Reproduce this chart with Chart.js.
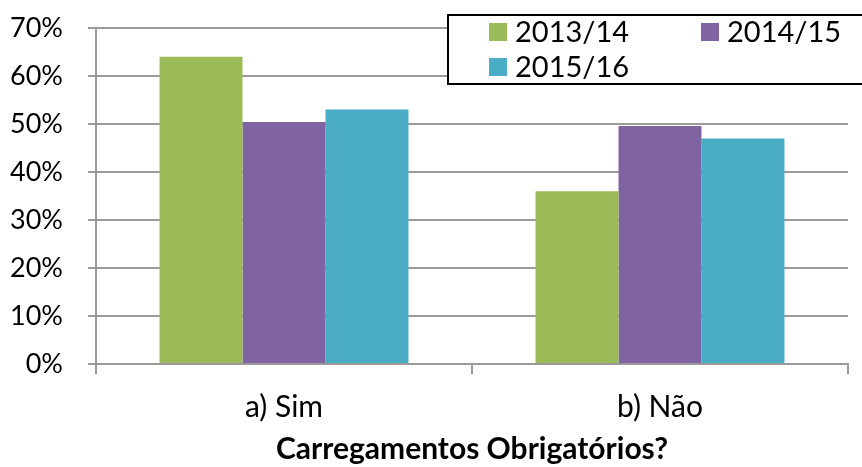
<!DOCTYPE html>
<html lang="en">
<head>
    <meta charset="UTF-8">
    <title>Carregamentos Obrigatórios?</title>
    <script src="https://cdn.jsdelivr.net/npm/chart.js"></script>
    <style>
        html, body {
            margin: 0;
            padding: 0;
            background: #ffffff;
        }
        #wrap {
            width: 862px;
            height: 467px;
            position: relative;
        }
    </style>
</head>
<body>
<div id="wrap">
    <canvas id="barChart"></canvas>
</div>

<script>
    // chart data
    const categories = ['a) Sim', 'b) Não'];
    const seriesNames = ['2013/14', '2014/15', '2015/16'];
    const values1314 = [64, 36];
    const values1415 = [50.4, 49.6];
    const values1516 = [53, 47];
    const yTicks = [0, 10, 20, 30, 40, 50, 60, 70];
    const axisTitle = 'Carregamentos Obrigatórios?';

    const colors = ['#9BBB59', '#8064A2', '#4BACC6'];
    const gridGrey = '#9a9a9a';
    const fontFamily = 'Lato, "Open Sans", sans-serif';

    // legend drawn inside a framed box overlapping the top right of the plot
    const boxLegend = {
        id: 'boxLegend',
        afterDraw(chart) {
            const ctx = chart.ctx;
            ctx.save();
            ctx.fillStyle = '#ffffff';
            ctx.fillRect(448, 15, 420, 69);
            ctx.strokeStyle = '#000000';
            ctx.lineWidth = 2;
            ctx.strokeRect(448, 15, 420, 69);

            const spots = [[489, 23], [701, 23], [489, 58]];
            ctx.font = '29px ' + fontFamily;
            ctx.textBaseline = 'middle';
            ctx.textAlign = 'left';
            chart.data.datasets.forEach((ds, i) => {
                const [x, y] = spots[i];
                ctx.fillStyle = ds.backgroundColor;
                ctx.fillRect(x, y, 18, 18);
                ctx.fillStyle = '#000000';
                ctx.fillText(ds.label, x + 26, y + 10);
            });
            ctx.restore();
        }
    };

    const ctx = document.getElementById('barChart').getContext('2d');
    const barChart = new Chart(ctx, {
        type: 'bar',
        data: {
            labels: categories,
            datasets: [
                { label: seriesNames[0], data: values1314, backgroundColor: colors[0] },
                { label: seriesNames[1], data: values1415, backgroundColor: colors[1] },
                { label: seriesNames[2], data: values1516, backgroundColor: colors[2] }
            ]
        },
        options: {
            responsive: true,
            maintainAspectRatio: false,
            animation: false,
            layout: {
                padding: { top: 28, right: 14, bottom: 0, left: 0 }
            },
            datasets: {
                bar: {
                    categoryPercentage: 0.662,
                    barPercentage: 1.0,
                    borderWidth: 0
                }
            },
            plugins: {
                legend: { display: false },
                tooltip: { enabled: false }
            },
            scales: {
                x: {
                    afterFit(scale) { scale.height = 103; },
                    grid: {
                        drawOnChartArea: false,
                        drawTicks: true,
                        tickLength: 10,
                        color: gridGrey,
                        lineWidth: 2
                    },
                    border: { color: gridGrey, width: 2 },
                    ticks: {
                        color: '#000000',
                        padding: 15,
                        font: { family: fontFamily, size: 30 }
                    },
                    title: {
                        display: true,
                        text: axisTitle,
                        color: '#000000',
                        padding: { top: 0, bottom: 0 },
                        font: { family: fontFamily, size: 30, weight: 'bold' }
                    }
                },
                y: {
                    min: 0,
                    max: 70,
                    afterFit(scale) {
                        scale.width = 96;
                        scale.paddingTop = 0;
                        scale.paddingBottom = 0;
                    },
                    afterBuildTicks(scale) {
                        scale.ticks = yTicks.map(v => ({ value: v }));
                    },
                    grid: {
                        color: gridGrey,
                        lineWidth: 2,
                        drawTicks: true,
                        tickLength: 8
                    },
                    border: { color: gridGrey, width: 2 },
                    ticks: {
                        color: '#000000',
                        padding: 25,
                        font: { family: fontFamily, size: 27 },
                        callback: v => v + '%'
                    }
                }
            }
        },
        plugins: [boxLegend]
    });
</script>
</body>
</html>
